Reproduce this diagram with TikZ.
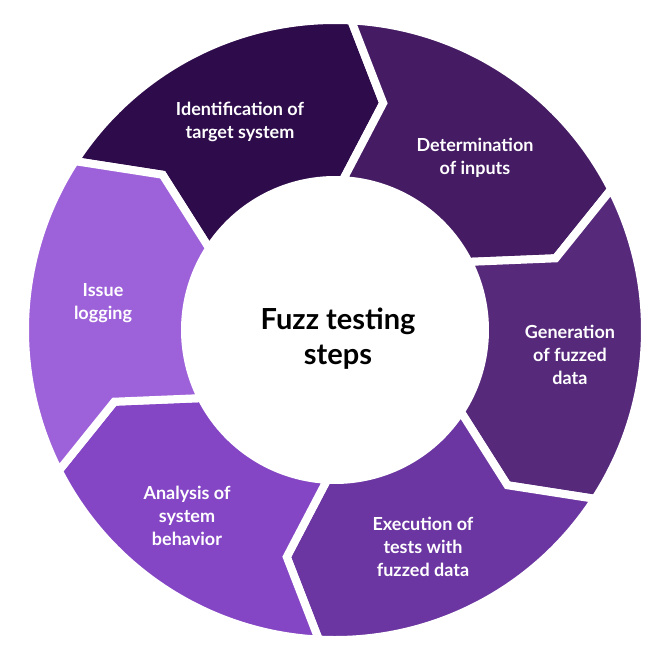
\documentclass[tikz,border=0pt]{standalone}
\usepackage{fontspec}
\setmainfont{Lato}
\begin{document}
\begin{tikzpicture}[x=1pt,y=1pt,
  lbl/.style={text=white,font=\fontsize{18}{23}\selectfont\bfseries,align=center},
  ctr/.style={text=black,font=\fontsize{29}{35}\selectfont\bfseries,align=center}]
\useasboundingbox (-335,-337) rectangle (336,330);
\def\ro{310}\def\ri{150}\def\rm{232}\def\dl{9}
\newcommand{\seg}[3]{\fill[#1,draw=white,line width=8pt,line join=miter]
  (#2:\ro) arc[start angle=#2,end angle=#3,radius=\ro] -- (#3-\dl:\rm) -- (#3:\ri)
  arc[start angle=#3,end angle=#2,radius=\ri] -- (#2-\dl:\rm) -- cycle;}
\definecolor{c1}{HTML}{2E0B4B}
\definecolor{c2}{HTML}{451B63}
\definecolor{c3}{HTML}{56297B}
\definecolor{c4}{HTML}{6B36A1}
\definecolor{c5}{HTML}{8446C4}
\definecolor{c6}{HTML}{9D61D9}
\seg{c1}{147}{87}
\seg{c2}{87}{27}
\seg{c3}{27}{-33}
\seg{c4}{-33}{-93}
\seg{c5}{-93}{-153}
\seg{c6}{-153}{-213}
\fill[white] (0,0) circle (152);
\node[ctr] (c) at (3,-9) {Fuzz testing\\steps};
\node[lbl] (a) at (-95,208) {Identification of\\target system};
\node[lbl] (b) at (140,172) {Determination\\of inputs};
\node[lbl] (d) at (235,-25) {Generation\\of fuzzed\\data};
\node[lbl] (e) at (88,-217) {Execution of\\tests with\\fuzzed data};
\node[lbl] (f) at (-148,-186) {Analysis of\\system\\behavior};
\node[lbl] (g) at (-232,27) {Issue\\logging};
\end{tikzpicture}
\end{document}
